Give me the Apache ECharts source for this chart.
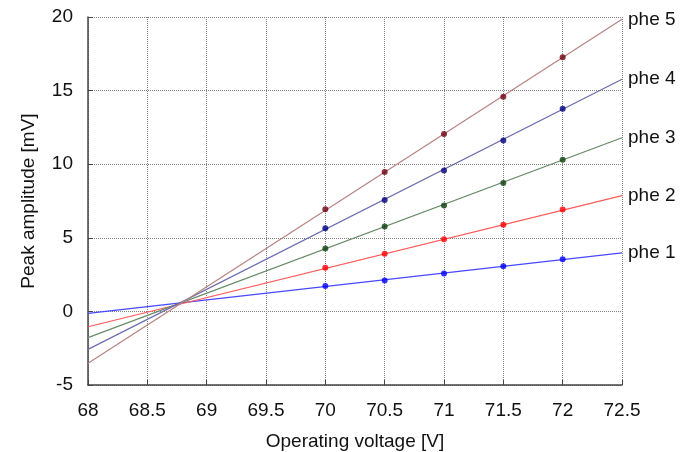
<!DOCTYPE html>
<html>
<head>
<meta charset="utf-8">
<script src="https://cdn.jsdelivr.net/npm/echarts@6/dist/echarts.min.js"></script>
<style>
  html, body { margin: 0; padding: 0; background: #fff; }
  #chart { width: 694px; height: 452px; }
</style>
</head>
<body>
<div id="chart"></div>
<script>
// measured points
var voltages = [70, 70.5, 71, 71.5, 72];
var phe1 = [1.72, 2.10, 2.58, 3.07, 3.55];
var phe2 = [2.96, 3.91, 4.90, 5.88, 6.92];
var phe3 = [4.27, 5.76, 7.20, 8.72, 10.30];
var phe4 = [5.65, 7.57, 9.58, 11.61, 13.76];
var phe5 = [6.94, 9.47, 12.05, 14.58, 17.26];

// fit lines, value at 68 V and at 72.5 V
var fitX = [68, 72.5];
var fit1 = [-0.14, 3.98];
var fit2 = [-1.04, 7.86];
var fit3 = [-1.78, 11.80];
var fit4 = [-2.58, 15.77];
var fit5 = [-3.53, 19.84];

var names = ['phe 1', 'phe 2', 'phe 3', 'phe 4', 'phe 5'];
var lineColors = ['#4848ff', '#ff5a5a', '#688a68', '#6c6cae', '#b88282'];
var dotColors = ['#0000ff', '#ff0000', '#0e400e', '#000080', '#700010'];

var points = [phe1, phe2, phe3, phe4, phe5];
var fits = [fit1, fit2, fit3, fit4, fit5];

var font = 'Liberation Sans, Arial, sans-serif';

(function () {
    var chart = echarts.init(document.getElementById('chart'));

    var series = [];
    for (var i = 0; i < names.length; i++) {
        series.push({
            name: names[i],
            type: 'line',
            data: fitX.map(function (x, k) { return [x, fits[i][k]]; }),
            showSymbol: false,
            symbol: 'none',
            silent: true,
            lineStyle: { color: lineColors[i], width: 1.2 },
            endLabel: {
                show: true,
                formatter: names[i],
                color: '#111',
                fontSize: 19,
                fontFamily: font,
                distance: 6
            },
            z: 2
        });
        series.push({
            name: names[i] + ' pts',
            type: 'scatter',
            data: voltages.map(function (x, k) { return [x, points[i][k]]; }),
            symbolSize: 6,
            itemStyle: { color: dotColors[i] },
            z: 3
        });
    }

    var option = {
        backgroundColor: '#fff',
        animation: false,
        grid: { left: 88, right: 72, top: 17, bottom: 67, outerBoundsMode: 'none' },
        xAxis: {
            type: 'value',
            min: 68,
            max: 72.5,
            interval: 0.5,
            name: 'Operating voltage [V]',
            nameLocation: 'middle',
            nameGap: 47,
            nameTextStyle: { fontSize: 19, color: '#111', fontFamily: font },
            axisLine: { show: true, onZero: false, lineStyle: { color: '#444', width: 1.5 } },
            axisTick: { show: true, inside: true, length: 5, lineStyle: { color: '#444' } },
            axisLabel: { fontSize: 19, color: '#111', fontFamily: font, margin: 16 },
            splitLine: { show: true, lineStyle: { type: 'dotted', color: '#808080', width: 1 } }
        },
        yAxis: {
            type: 'value',
            min: -5,
            max: 20,
            interval: 5,
            name: 'Peak amplitude [mV]',
            nameLocation: 'middle',
            nameGap: 50,
            nameTextStyle: { fontSize: 19, color: '#111', fontFamily: font },
            axisLine: { show: true, onZero: false, lineStyle: { color: '#444', width: 1.5 } },
            axisTick: { show: true, inside: true, length: 5, lineStyle: { color: '#444' } },
            axisLabel: { fontSize: 19, color: '#111', fontFamily: font, margin: 15 },
            splitLine: { show: true, lineStyle: { type: 'dotted', color: '#808080', width: 1 } }
        },
        series: series
    };

    chart.setOption(option);
})();
</script>
</body>
</html>
